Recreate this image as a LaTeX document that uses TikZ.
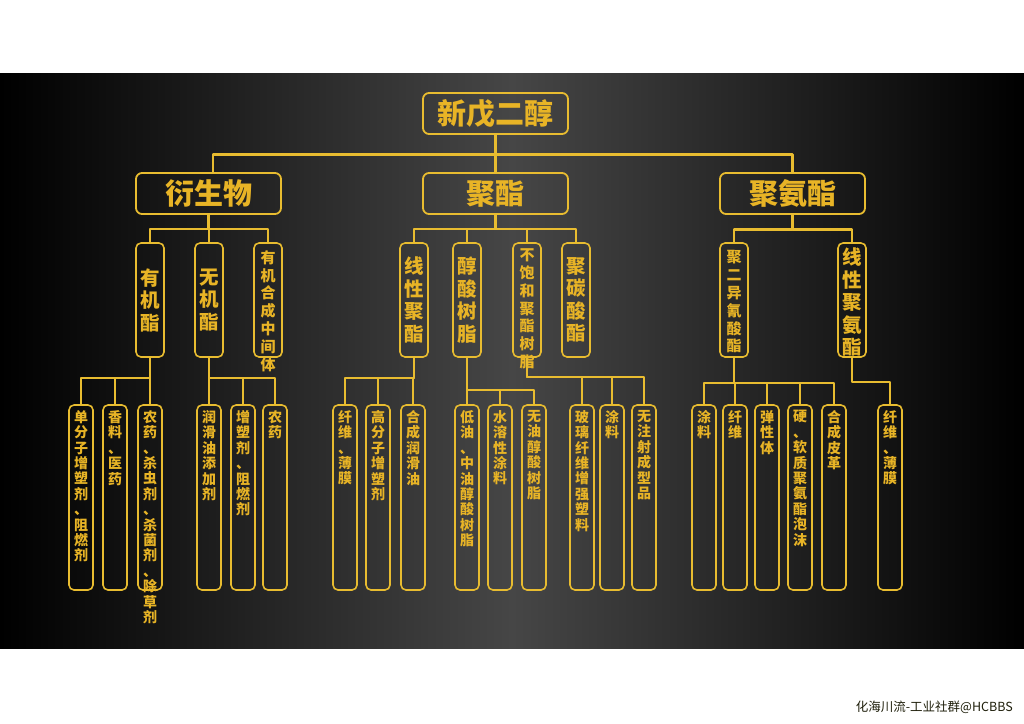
\documentclass[tikz,border=0pt]{standalone}
\usepackage{fontspec}
\newfontfamily\cjk{Noto Sans CJK SC}
\definecolor{gold}{RGB}{232,188,48}
\definecolor{goldtxt}{RGB}{232,180,38}
\definecolor{bgmid}{RGB}{70,70,70}
\definecolor{wmcol}{RGB}{30,30,10}

\begin{document}
\begin{tikzpicture}[x=1pt,y=-1pt,line join=round,
  conn/.style={draw=gold,line width=2.6pt},
  topbox/.style={draw=gold,line width=1.8pt,rounded corners=6pt,minimum width=145pt,minimum height=41pt,inner sep=0pt,text=goldtxt,font=\cjk\bfseries\fontsize{29}{29}\selectfont},
  midbox/.style={draw=gold,line width=1.6pt,rounded corners=5pt,minimum width=28pt,minimum height=114pt,inner sep=0pt},
  leafbox/.style={draw=gold,line width=1.6pt,rounded corners=5pt,minimum width=24pt,minimum height=185pt,inner sep=0pt},
  midtxt/.style={text=goldtxt,align=center,inner sep=0pt,font=\cjk\bfseries\fontsize{19.5}{22.5}\selectfont},
  smalltxt/.style={text=goldtxt,align=center,inner sep=0pt,font=\cjk\bfseries\fontsize{15}{17.8}\selectfont},
  leaftxt/.style={text=goldtxt,align=center,inner sep=0pt,anchor=north,font=\cjk\bfseries\fontsize{14}{15.4}\selectfont}]
\useasboundingbox (0,0) rectangle (1024,723);
\shade[left color=black,right color=black,middle color=bgmid] (0,73) rectangle (1024,648);
%%
  % Node: 新戊二醇
  \node[topbox] (root) at (495.5,113.5) {新戊二醇};
  % Node: 衍生物
  \node[topbox] (deriv) at (208.5,193.5) {衍生物};
  % Node: 聚酯
  \node[topbox] (polyester) at (495.5,193.5) {聚酯};
  % Node: 聚氨酯
  \node[topbox] (pu) at (792.5,193.5) {聚氨酯};
%
  % Node: 有机酯
  \node[midbox] (orgest) at (150,300) {};
  \node[midtxt] (orgest-t) at (orgest.center) {有\\机\\酯};
  % Node: 无机酯
  \node[midbox] (inorgest) at (209,300) {};
  \node[midtxt] (inorgest-t) at (inorgest.center) {无\\机\\酯};
  % Node: 有机合成中间体
  \node[midbox] (interm) at (268,300) {};
  \node[smalltxt] (interm-t) at ([yshift=-11pt]interm.center) {有\\机\\合\\成\\中\\间\\体};
  % Node: 线性聚酯
  \node[midbox] (linpes) at (414,300) {};
  \node[midtxt] (linpes-t) at (linpes.center) {线\\性\\聚\\酯};
  % Node: 醇酸树脂
  \node[midbox] (alkyd) at (467,300) {};
  \node[midtxt] (alkyd-t) at (alkyd.center) {醇\\酸\\树\\脂};
  % Node: 不饱和聚酯树脂
  \node[midbox] (upr) at (527,300) {};
  \node[smalltxt] (upr-t) at ([yshift=-9pt]upr.center) {不\\饱\\和\\聚\\酯\\树\\脂};
  % Node: 聚碳酸酯
  \node[midbox] (pc) at (576,300) {};
  \node[midtxt] (pc-t) at (pc.center) {聚\\碳\\酸\\酯};
  % Node: 聚二异氰酸酯
  \node[midbox] (diiso) at (734,300) {};
  \node[smalltxt] (diiso-t) at ([yshift=-2pt]diiso.center) {聚\\二\\异\\氰\\酸\\酯};
  % Node: 线性聚氨酯
  \node[midbox] (linpu) at (852,300) {};
  \node[midtxt] (linpu-t) at ([yshift=-2pt]linpu.center) {线\\性\\聚\\氨\\酯};
%
  % Node: 单分子增塑剂、阻燃剂
  \node[leafbox] (mono) at (81,497.5) {};
  \node[leaftxt] (mono-t) at ([yshift=-6pt]mono.north) {单\\分\\子\\增\\塑\\剂\\、\\阻\\燃\\剂};
  % Node: 香料、医药
  \node[leafbox] (spice) at (115,497.5) {};
  \node[leaftxt] (spice-t) at ([yshift=-6pt]spice.north) {香\\料\\、\\医\\药};
  % Node: 农药、杀虫剂、杀菌剂、除草剂
  \node[leafbox] (pest) at (150,497.5) {};
  \node[leaftxt] (pest-t) at ([yshift=-6pt]pest.north) {农\\药\\、\\杀\\虫\\剂\\、\\杀\\菌\\剂\\、\\除\\草\\剂};
  % Node: 润滑油添加剂
  \node[leafbox] (lubadd) at (209,497.5) {};
  \node[leaftxt] (lubadd-t) at ([yshift=-6pt]lubadd.north) {润\\滑\\油\\添\\加\\剂};
  % Node: 增塑剂、阻燃剂
  \node[leafbox] (plast) at (243,497.5) {};
  \node[leaftxt] (plast-t) at ([yshift=-6pt]plast.north) {增\\塑\\剂\\、\\阻\\燃\\剂};
  % Node: 农药
  \node[leafbox] (agro) at (275,497.5) {};
  \node[leaftxt] (agro-t) at ([yshift=-6pt]agro.north) {农\\药};
  % Node: 纤维、薄膜
  \node[leafbox] (fiber1) at (345,497.5) {};
  \node[leaftxt] (fiber1-t) at ([yshift=-6pt]fiber1.north) {纤\\维\\、\\薄\\膜};
  % Node: 高分子增塑剂
  \node[leafbox] (polyplast) at (378,497.5) {};
  \node[leaftxt] (polyplast-t) at ([yshift=-6pt]polyplast.north) {高\\分\\子\\增\\塑\\剂};
  % Node: 合成润滑油
  \node[leafbox] (synlub) at (413,497.5) {};
  \node[leaftxt] (synlub-t) at ([yshift=-6pt]synlub.north) {合\\成\\润\\滑\\油};
  % Node: 低油、中油醇酸树脂
  \node[leafbox] (midoil) at (467,497.5) {};
  \node[leaftxt] (midoil-t) at ([yshift=-6pt]midoil.north) {低\\油\\、\\中\\油\\醇\\酸\\树\\脂};
  % Node: 水溶性涂料
  \node[leafbox] (waterpaint) at (500,497.5) {};
  \node[leaftxt] (waterpaint-t) at ([yshift=-6pt]waterpaint.north) {水\\溶\\性\\涂\\料};
  % Node: 无油醇酸树脂
  \node[leafbox] (oilfree) at (534,497.5) {};
  \node[leaftxt] (oilfree-t) at ([yshift=-6pt]oilfree.north) {无\\油\\醇\\酸\\树\\脂};
  % Node: 玻璃纤维增强塑料
  \node[leafbox] (frp) at (582,497.5) {};
  \node[leaftxt] (frp-t) at ([yshift=-6pt]frp.north) {玻\\璃\\纤\\维\\增\\强\\塑\\料};
  % Node: 涂料
  \node[leafbox] (paint1) at (612,497.5) {};
  \node[leaftxt] (paint1-t) at ([yshift=-6pt]paint1.north) {涂\\料};
  % Node: 无注射成型品
  \node[leafbox] (mould) at (644,497.5) {};
  \node[leaftxt] (mould-t) at ([yshift=-6pt]mould.north) {无\\注\\射\\成\\型\\品};
  % Node: 涂料
  \node[leafbox] (paint2) at (704,497.5) {};
  \node[leaftxt] (paint2-t) at ([yshift=-6pt]paint2.north) {涂\\料};
  % Node: 纤维
  \node[leafbox] (fiber2) at (735,497.5) {};
  \node[leaftxt] (fiber2-t) at ([yshift=-6pt]fiber2.north) {纤\\维};
  % Node: 弹性体
  \node[leafbox] (elast) at (767,497.5) {};
  \node[leaftxt] (elast-t) at ([yshift=-6pt]elast.north) {弹\\性\\体};
  % Node: 硬、软质聚氨酯泡沫
  \node[leafbox] (foam) at (800,497.5) {};
  \node[leaftxt] (foam-t) at ([yshift=-6pt]foam.north) {硬\\、\\软\\质\\聚\\氨\\酯\\泡\\沫};
  % Node: 合成皮革
  \node[leafbox] (leather) at (834,497.5) {};
  \node[leaftxt] (leather-t) at ([yshift=-6pt]leather.north) {合\\成\\皮\\革};
  % Node: 纤维、薄膜
  \node[leafbox] (fiber3) at (890,497.5) {};
  \node[leaftxt] (fiber3-t) at ([yshift=-6pt]fiber3.north) {纤\\维\\、\\薄\\膜};
%
  % Edge: 新戊二醇 -> 衍生物, 聚酯, 聚氨酯
  \draw[conn] (root.south) -- ++(0,19.5) -| ([xshift=4.5pt]deriv.north);
  \draw[conn] (root.south) -- (polyester.north);
  \draw[conn] (root.south) -- ++(0,19.5) -| (pu.north);
  % Edge: 衍生物 -> 有机酯, 无机酯, 有机合成中间体
  \foreach \c in {orgest,inorgest,interm}
    \draw[conn] (deriv.south) -- ++(0,14) -| (\c.north);
  % Edge: 聚酯 -> 线性聚酯, 醇酸树脂, 不饱和聚酯树脂, 聚碳酸酯
  \foreach \c in {linpes,alkyd,upr,pc}
    \draw[conn] (polyester.south) -- ++(0,14) -| (\c.north);
  % Edge: 聚氨酯 -> 聚二异氰酸酯, 线性聚氨酯
  \foreach \c in {diiso,linpu}
    \draw[conn] (pu.south) -- ++(0,14.5) -| (\c.north);
  % Edge: 有机酯 -> ...
  \foreach \c in {mono,spice,pest}
    \draw[conn] (orgest.south) -- ++(0,20) -| (\c.north);
  % Edge: 无机酯 -> ...
  \foreach \c in {lubadd,plast,agro}
    \draw[conn] (inorgest.south) -- ++(0,20) -| (\c.north);
  % Edge: 线性聚酯 -> ...
  \foreach \c in {fiber1,polyplast,synlub}
    \draw[conn] (linpes.south) -- ++(0,20) -| (\c.north);
  % Edge: 醇酸树脂 -> ...
  \foreach \c in {midoil,waterpaint,oilfree}
    \draw[conn] (alkyd.south) -- ++(0,32) -| (\c.north);
  % Edge: 不饱和聚酯树脂 -> ...
  \foreach \c in {frp,paint1,mould}
    \draw[conn] (upr.south) -- ++(0,19) -| (\c.north);
  % Edge: 聚二异氰酸酯 -> ...
  \foreach \c in {paint2,fiber2,elast,foam,leather}
    \draw[conn] (diiso.south) -- ++(0,25) -| (\c.north);
  % Edge: 线性聚氨酯 -> 纤维、薄膜
  \draw[conn] (linpu.south) -- ++(0,24) -| (fiber3.north);
%
  % Node: watermark
  \node[anchor=east,inner sep=0pt,text=wmcol,font=\cjk\fontsize{12.5}{13}\selectfont] (wm) at (1013,707) {化海川流-工业社群@HCBBS};
%
\end{tikzpicture}
\end{document}
